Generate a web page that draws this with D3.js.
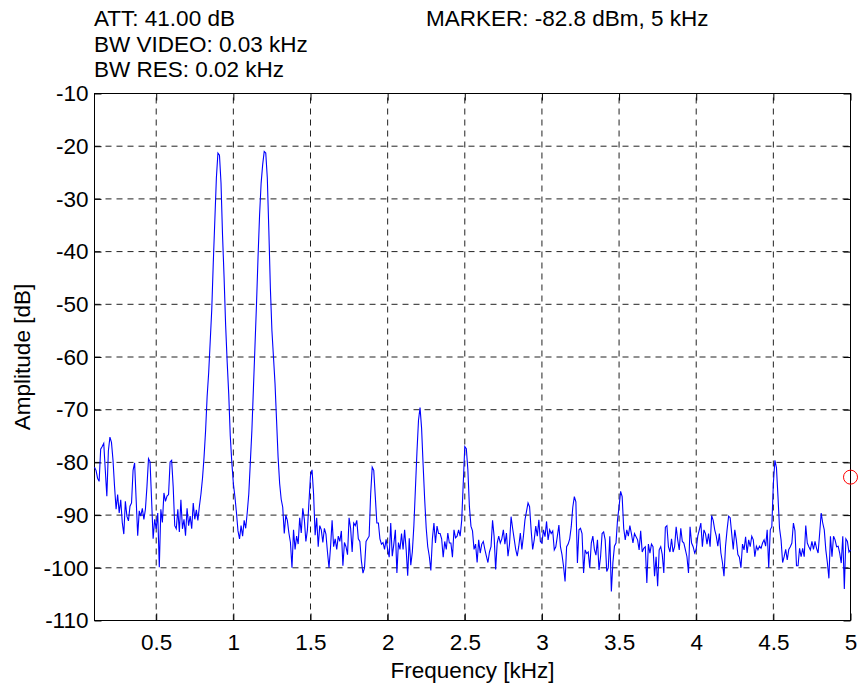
<!DOCTYPE html>
<html>
<head>
<meta charset="utf-8">
<script src="https://cdn.jsdelivr.net/npm/d3@7"></script>
<style>
body { margin: 0; background: #fff; }
</style>
</head>
<body>
<div id="chart"></div>
<script>
// spectrum trace: one reading every 0.01 kHz, starting at 0.1 kHz
var freqStart = 0.1;
var freqStep = 0.01;
var amplitude = [
  -80.9,-81.5,-83,-83.6,-77.5,-77,-76.4,-81.5,-86.4,-77.8,
  -75.2,-76.2,-79.6,-84.6,-88.9,-86.1,-89.6,-87.1,-91.4,-93.6,
  -87.4,-90.2,-91.1,-88.3,-87.7,-81.5,-80.1,-87.1,-93.9,-89.2,
  -90.2,-88.7,-90.8,-88.9,-84.6,-79.3,-79.9,-87.1,-94.5,-90.8,
  -92.6,-89.6,-99.9,-88.9,-91.4,-85.8,-87.4,-86.4,-86.1,-79.9,
  -79.6,-84.6,-92,-92.6,-88.9,-93.2,-87.1,-92.6,-90.8,-93.9,
  -88.7,-92,-90.2,-92.6,-87.7,-90.8,-89,-91,-88.3,-86,
  -83,-79,-74,-67.5,-63,-57,-51,-42,-34,-26,
  -21.3,-21.7,-27,-37,-45,-54,-61,-67,-75,-80,
  -84,-86.5,-89.5,-93,-94.5,-92,-94,-91,-92.5,-89.5,
  -86,-80,-74,-66,-58,-50,-41,-33,-27,-23.5,
  -21,-21.3,-26,-36,-47,-55,-60,-65,-72,-79,
  -84,-87,-88.5,-93.5,-90,-91,-93.4,-95.2,-100,-92.8,
  -96.5,-94,-95.5,-90.5,-93.4,-88.7,-90.8,-95,-92.8,-87.5,
  -82.5,-81.4,-86,-93.8,-90.5,-96,-92,-92.8,-95.2,-92.5,
  -93.6,-97,-100,-96,-91,-96,-94.5,-96.5,-94,-95,
  -93,-99.6,-95.2,-96,-97.5,-90.5,-92.5,-97,-91.5,-92,
  -91,-94.5,-95,-98.7,-101,-100,-95,-94.5,-94,-86,
  -80.9,-81.5,-86.5,-91.5,-91.5,-94.5,-95.5,-95.2,-96.5,-94.6,
  -96.5,-98,-91.5,-97.8,-95.5,-92.8,-101,-95.2,-96.5,-93.5,
  -96.5,-92.8,-96.5,-101.5,-94.4,-99.5,-97,-92,-85,-78,
  -72,-69.6,-73.5,-80.5,-87,-92.5,-96,-97.8,-100.5,-94.5,
  -91.5,-95.3,-92.1,-93.5,-93.5,-94.5,-98,-95,-96.5,-93.4,
  -95.3,-95.3,-98,-92.8,-94.3,-94,-92.8,-94,-91,-84,
  -77,-77.4,-81.4,-88.4,-92.1,-93,-96.5,-95.5,-99,-94.7,
  -97.2,-95.5,-95,-96.5,-97.8,-99,-97,-96,-91,-94,
  -100.3,-95.3,-94,-95.3,-94.5,-92.8,-95.5,-93.4,-97.8,-95.5,
  -90.3,-92.5,-94.5,-96.5,-97.8,-95.9,-93.4,-96.5,-94,-90.9,
  -89.3,-87.7,-88.4,-92.8,-96.5,-94.7,-92.1,-94,-90.9,-95,
  -95.3,-92.8,-94.1,-91.2,-94.7,-92.8,-93.5,-93,-96.6,-96,
  -94,-91.9,-96,-97.5,-99.7,-102.6,-96,-95.5,-94.5,-92.2,
  -88.5,-86.5,-87.5,-99.1,-92.8,-92.5,-93.5,-101,-96.6,-97.3,
  -97,-100,-95.3,-94,-96.5,-97.6,-94.7,-100.4,-97.9,-93.5,
  -93.2,-94.7,-100.7,-100,-94,-104.5,-99,-95.9,-95.3,-90.9,
  -88.4,-85.5,-86.5,-92.5,-94.7,-92.8,-94,-92,-93.5,-95.3,
  -93.5,-94.1,-94.7,-96.6,-93,-97,-96.3,-96,-102.9,-95.5,
  -97.2,-95.5,-96,-101.6,-97.9,-103.5,-96.6,-96,-97.5,-101,
  -92.3,-92,-96,-97,-94.5,-97,-96,-92.2,-94.7,-96.6,
  -92.5,-95,-95.3,-96.6,-97.9,-101,-92.2,-95.3,-96,-97.2,
  -96.5,-94,-92.8,-91.5,-96,-92.8,-93.5,-95.5,-93.5,-96,
  -90.1,-91,-92.8,-94,-95.9,-93.5,-97.2,-99,-101.6,-95.9,
  -92.8,-90.2,-90.5,-93.5,-96.5,-92.8,-94.7,-97.5,-98,-100,
  -95.5,-96.6,-94.1,-97.2,-94.7,-96,-94,-94.7,-97.9,-95.9,
  -96.6,-95.9,-96.3,-95.3,-94.7,-95.9,-92.8,-100,-92.8,-92.2,
  -84,-79.6,-81,-86.5,-92.5,-94.7,-99,-97.9,-96.5,-98.5,
  -96.5,-96,-95.3,-91.5,-93,-99.6,-99.6,-96.3,-97.9,-96.3,
  -97.9,-92,-95.3,-96,-96.6,-95,-96.5,-95,-96.3,-97.2,
  -93.5,-89.6,-91.5,-92.8,-96.6,-99,-102,-94,-97.9,-94,
  -94.7,-96,-95.9,-97.2,-99.1,-94,-104,-94.5,-95,-97,
  -96.6
];

// axis ticks
var xTicks = [0.5, 1, 1.5, 2, 2.5, 3, 3.5, 4, 4.5, 5];
var yTicks = [-110, -100, -90, -80, -70, -60, -50, -40, -30, -20, -10];

// marker readout
var markerFreq = [5];
var markerAmp = [-82.8];

// header texts
var headerLeft = ["ATT: 41.00 dB", "BW VIDEO: 0.03 kHz", "BW RES: 0.02 kHz"];
var headerRight = ["MARKER: -82.8 dBm, 5 kHz"];

var svgWidth = 860;
var svgHeight = 686;
var font = "'Liberation Sans', Arial, Helvetica, sans-serif";
var fontSize = 22.5;

var plot = { left: 94.5, right: 850.5, top: 93.5, bottom: 620.5 };

var svg = d3.select("#chart")
  .append("svg")
  .attr("width", svgWidth)
  .attr("height", svgHeight)
  .style("background", "#fff");

var xScale = d3.scaleLinear()
  .domain([0.1, 5])
  .range([plot.left, plot.right]);

var yScale = d3.scaleLinear()
  .domain([-110, -10])
  .range([plot.bottom, plot.top]);

// plain labels like matlab: "1", "-10" (ascii minus)
var plainFormat = d => String(d);

// dashed grid
var grid = svg.append("g").attr("class", "grid")
  .attr("stroke", "#222")
  .attr("stroke-width", 1)
  .attr("stroke-dasharray", "6,5");

grid.selectAll(".vgrid")
  .data(xTicks.filter(d => d < 5))
  .enter()
  .append("line")
  .attr("x1", d => xScale(d))
  .attr("x2", d => xScale(d))
  .attr("y1", plot.bottom)
  .attr("y2", plot.top);

grid.selectAll(".hgrid")
  .data(yTicks.filter(d => d > -110 && d < -10))
  .enter()
  .append("line")
  .attr("x1", plot.left)
  .attr("x2", plot.right)
  .attr("y1", d => yScale(d))
  .attr("y2", d => yScale(d));

// axes, ticks pointing inward
function styleAxis(g) {
  g.select(".domain").remove();
  g.selectAll("line").attr("stroke", "#000");
  g.selectAll("text")
    .attr("fill", "#000")
    .attr("font-size", fontSize)
    .attr("font-family", font);
}

svg.append("g")
  .attr("transform", `translate(0, ${plot.bottom})`)
  .call(d3.axisBottom(xScale).tickValues(xTicks).tickFormat(plainFormat)
    .tickSizeInner(-7).tickSizeOuter(0).tickPadding(13.5))
  .call(styleAxis);

svg.append("g")
  .attr("transform", `translate(0, ${plot.top})`)
  .call(d3.axisTop(xScale).tickValues(xTicks).tickSizeInner(-7).tickSizeOuter(0).tickFormat(""))
  .call(styleAxis);

svg.append("g")
  .attr("transform", `translate(${plot.left}, 0)`)
  .call(d3.axisLeft(yScale).tickValues(yTicks).tickFormat(plainFormat)
    .tickSizeInner(-7).tickSizeOuter(0).tickPadding(6))
  .call(styleAxis);

svg.append("g")
  .attr("transform", `translate(${plot.right}, 0)`)
  .call(d3.axisRight(yScale).tickValues(yTicks).tickSizeInner(-7).tickSizeOuter(0).tickFormat(""))
  .call(styleAxis);

// frame
svg.append("rect")
  .attr("x", plot.left)
  .attr("y", plot.top)
  .attr("width", plot.right - plot.left)
  .attr("height", plot.bottom - plot.top)
  .attr("fill", "none")
  .attr("stroke", "#000")
  .attr("stroke-width", 1);

// trace
var line = d3.line()
  .x((d, i) => xScale(freqStart + i * freqStep))
  .y(d => yScale(d));

svg.append("path")
  .datum(amplitude)
  .attr("d", line)
  .attr("fill", "none")
  .attr("stroke", "#0000ff")
  .attr("stroke-width", 1.1);

// marker circle
svg.selectAll(".marker")
  .data(markerFreq)
  .enter()
  .append("circle")
  .attr("cx", d => xScale(d))
  .attr("cy", (d, i) => yScale(markerAmp[i]))
  .attr("r", 7)
  .attr("fill", "none")
  .attr("stroke", "#ff0000")
  .attr("stroke-width", 1);

// header texts
svg.selectAll(".hdrLeft")
  .data(headerLeft)
  .enter()
  .append("text")
  .attr("x", 94)
  .attr("y", (d, i) => 26 + i * 25.5)
  .attr("font-size", fontSize)
  .attr("font-family", font)
  .text(d => d);

svg.selectAll(".hdrRight")
  .data(headerRight)
  .enter()
  .append("text")
  .attr("x", 426)
  .attr("y", 26)
  .attr("font-size", fontSize)
  .attr("font-family", font)
  .text(d => d);

// axis titles
svg.append("text")
  .attr("x", (plot.left + plot.right) / 2)
  .attr("y", 678)
  .attr("text-anchor", "middle")
  .attr("font-size", fontSize)
  .attr("font-family", font)
  .text("Frequency [kHz]");

svg.append("text")
  .attr("transform", `translate(30, ${(plot.top + plot.bottom) / 2}) rotate(-90)`)
  .attr("text-anchor", "middle")
  .attr("font-size", fontSize)
  .attr("font-family", font)
  .text("Amplitude [dB]");
</script>
</body>
</html>
